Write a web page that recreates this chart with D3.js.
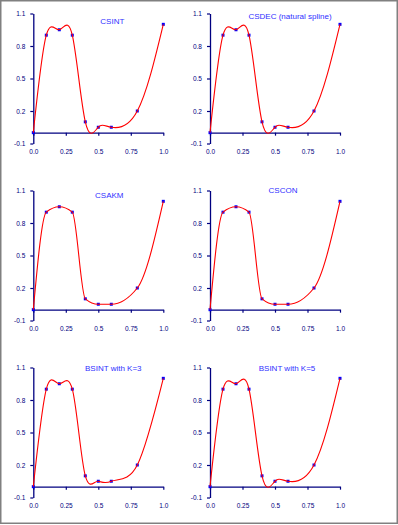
<!DOCTYPE html>
<html>
<head>
<meta charset="utf-8">
<script src="https://cdn.jsdelivr.net/npm/d3@7"></script>
<style>
  body { margin: 0; background: #fff; }
  svg { display: block; }
  .tick text { font-family: "Liberation Sans", Arial, sans-serif; font-size: 6.5px; fill: #000080; }
</style>
</head>
<body>
<div id="chart"></div>
<script>
// data points (same for all panels)
const xData = [0.0, 0.1, 0.2, 0.3, 0.4, 0.5, 0.6, 0.8, 1.0];
const yData = [0.0, 0.9, 0.95, 0.9, 0.1, 0.05, 0.05, 0.2, 1.0];

const panelTitles = ["CSINT", "CSDEC (natural spline)", "CSAKM", "CSCON", "BSINT with K=3", "BSINT with K=5"];

const xTicks = [0, 0.25, 0.5, 0.75, 1.0];
const xTickLabels = ["0.0", "0.25", "0.5", "0.75", "1.0"];
const yTicks = [-0.1, 0.2, 0.5, 0.8, 1.1];
const yTickLabels = ["-0.1", "0.2", "0.5", "0.8", "1.1"];

// interpolation used for each panel
const panelCurves = [d3.curveNatural, d3.curveNatural, d3.curveMonotoneX, d3.curveMonotoneX,
                     d3.curveCatmullRom.alpha(0), d3.curveNatural];

const width = 398, height = 525;
const plotW = 130, plotH = 130;
// layout
const colX = [33.3, 210];
const rowY = [13.5, 190.5, 367.5];
const titleOff = [[79, 10], [80, 5], [76, 7.5], [73, 2.5], [80, 3.5], [77, 3.5]];

const svg = d3.select("#chart").append("svg")
    .attr("width", width)
    .attr("height", height);

// outer frame
svg.append("rect")
    .attr("x", 0.75).attr("y", 0.75)
    .attr("width", width - 1.5).attr("height", height - 2.5)
    .attr("fill", "#fff")
    .attr("stroke", "#808080")
    .attr("stroke-width", 1.5);

const pts = xData.map((x, i) => ({ x: x, y: yData[i] }));

panelTitles.forEach((title, p) => {
    const left = colX[p % 2], top = rowY[Math.floor(p / 2)];
    const g = svg.append("g").attr("transform", `translate(${left},${top})`);

    const x = d3.scaleLinear().domain([0, 1]).range([0, plotW]);
    const y = d3.scaleLinear().domain([-0.1, 1.1]).range([plotH, 0]);

    // y axis
    const ya = g.append("g")
        .call(d3.axisLeft(y).tickValues(yTicks).tickSize(3).tickSizeOuter(0).tickPadding(5)
            .tickFormat((d, i) => yTickLabels[i]));

    // x axis at y = 0, labels underneath the plot
    const xa = g.append("g")
        .attr("transform", `translate(0,${y(0)})`)
        .call(d3.axisBottom(x).tickValues(xTicks).tickSize(3).tickSizeOuter(0).tickPadding(14)
            .tickFormat((d, i) => xTickLabels[i]));

    [ya, xa].forEach(a => {
        a.select(".domain").attr("stroke", "#000080").attr("stroke-width", 1.3);
        a.selectAll(".tick line").attr("stroke", "#000080").attr("stroke-width", 1.2);
    });

    // title
    g.append("text")
        .attr("x", titleOff[p][0])
        .attr("y", titleOff[p][1])
        .attr("text-anchor", "middle")
        .attr("font-family", "Liberation Sans, Arial, sans-serif")
        .attr("font-size", "8px")
        .attr("fill", "#3030ff")
        .text(title);

    // data points
    g.selectAll(".pt")
        .data(pts)
        .enter()
        .append("rect")
        .attr("class", "pt")
        .attr("x", d => x(d.x) - 1.5)
        .attr("y", d => y(d.y) - 1.5)
        .attr("width", 3)
        .attr("height", 3)
        .attr("fill", "#0000ff");

    // interpolating curve
    const line = d3.line()
        .x(d => x(d.x))
        .y(d => y(d.y))
        .curve(panelCurves[p]);

    g.append("path")
        .datum(pts)
        .attr("d", line)
        .attr("fill", "none")
        .attr("stroke", "#ff0000")
        .attr("stroke-width", 1.1);
});
</script>
</body>
</html>
